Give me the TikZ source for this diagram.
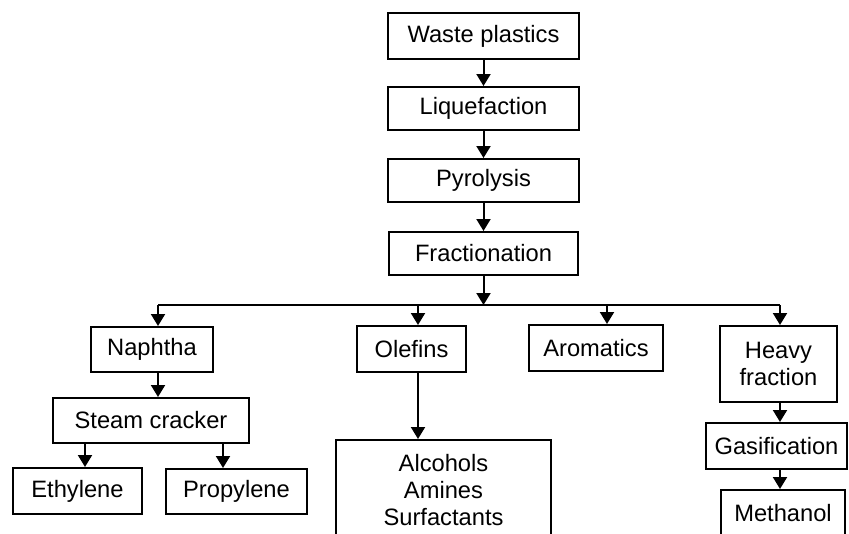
\documentclass[tikz,border=0pt]{standalone}
\usepackage{fontspec}
\setmainfont{Liberation Sans}
\usetikzlibrary{arrows.meta}

\tikzset{
  box/.style={draw, line width=2pt, inner sep=0pt, align=center,
    font=\fontsize{23.7}{27}\selectfont},
  arr/.style={line width=2pt, -{Triangle[length=12pt,width=14pt]}}
}

\begin{document}
\begin{tikzpicture}[x=1pt,y=-1pt]
\useasboundingbox (0,0) rectangle (849,533);
\clip (0,0) rectangle (849,533);

% main chain
\node[box, minimum width=191pt, minimum height=46pt] (waste) at (483.5,36) {Waste plastics};
\node[box, minimum width=191pt, minimum height=43pt] (liq) at (483.5,108.5) {Liquefaction};
\node[box, minimum width=191pt, minimum height=43pt] (pyro) at (483.5,180.5) {Pyrolysis};
\node[box, minimum width=189pt, minimum height=43pt] (frac) at (483.5,253.5) {Fractionation};

% products
\node[box, minimum width=122pt, minimum height=45pt] (naph) at (152,349.5) {Naphtha};
\node[box, minimum width=196pt, minimum height=45pt] (steam) at (151,420.5) {Steam cracker};
\node[box, minimum width=129pt, minimum height=46pt] (ethyl) at (77.5,491) {Ethylene};
\node[box, minimum width=141pt, minimum height=45pt] (propyl) at (236.5,491.5) {Propylene};
\node[box, minimum width=109pt, minimum height=46pt] (olef) at (411.5,349) {Olefins};
\node[box, minimum width=215pt, minimum height=100pt] (alc) at (443.5,490) {Alcohols\\Amines\\Surfactants};
\node[box, minimum width=134pt, minimum height=46pt] (arom) at (596,348) {Aromatics};
\node[box, minimum width=117pt, minimum height=76pt] (heavy) at (778.5,364) {Heavy\\fraction};
\node[box, minimum width=141pt, minimum height=46pt] (gasif) at (776.5,446) {Gasification};
\node[box, minimum width=124pt, minimum height=46pt] (meth) at (783,513) {Methanol};

% branch points
\coordinate (jn) at (158,305);
\coordinate (jo) at (418,305);
\coordinate (ja) at (607,305);
\coordinate (jh) at (780,305);
\coordinate (se) at (85,443);
\coordinate (sp) at (223,443);

\draw[arr] (waste) -- (liq);
\draw[arr] (liq) -- (pyro);
\draw[arr] (pyro) -- (frac);
\draw[arr] (frac) -- (frac |- jn);
\draw[line width=2pt] (jn) -- (jh);
\draw[arr] (jn) -- (jn |- naph.north);
\draw[arr] (jo) -- (jo |- olef.north);
\draw[arr] (ja) -- (ja |- arom.north);
\draw[arr] (jh) -- (jh |- heavy.north);
\draw[arr] (jn |- naph.south) -- (jn |- steam.north);
\draw[arr] (se) -- (se |- ethyl.north);
\draw[arr] (sp) -- (sp |- propyl.north);
\draw[arr] (jo |- olef.south) -- (jo |- alc.north);
\draw[arr] (jh |- heavy.south) -- (jh |- gasif.north);
\draw[arr] (jh |- gasif.south) -- (jh |- meth.north);
\end{tikzpicture}
\end{document}
